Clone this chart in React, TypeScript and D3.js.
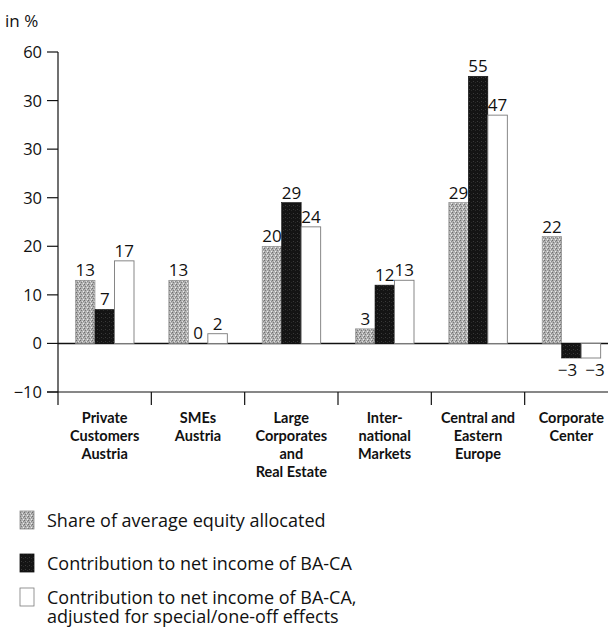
import React from "react";
import * as d3 from "d3";

const categories = [
  ["Private", "Customers", "Austria"],
  ["SMEs", "Austria"],
  ["Large", "Corporates", "and", "Real Estate"],
  ["Inter-", "national", "Markets"],
  ["Central and", "Eastern", "Europe"],
  ["Corporate", "Center"],
];
const categoryKeys = ["PCA", "SME", "LCRE", "IM", "CEE", "CC"];
const shareEquity = [13, 13, 20, 3, 29, 22];
const netIncome = [7, 0, 29, 12, 55, -3];
const netIncomeAdj = [17, 2, 24, 13, 47, -3];
const seriesNames = [
  ["Share of average equity allocated"],
  ["Contribution to net income of BA-CA"],
  ["Contribution to net income of BA-CA,", "adjusted for special/one-off effects"],
];
const tickValues = [60, 50, 40, 30, 20, 10, 0, -10];
const tickLabels = ["60", "30", "30", "30", "20", "10", "0", "\u221210"];

const FONT = "'Open Sans', 'DejaVu Sans', sans-serif";
const BOLD_FONT = "Lato, 'Open Sans', sans-serif";

export default function App() {
  const y = d3.scaleLinear().domain([-10, 60]).range([392, 52]);
  const x = d3.scaleBand<string>().domain(categoryKeys).range([58, 618]);
  const bw = x.bandwidth();
  const inner = d3.scaleBand<number>().domain([0, 1, 2]).range([17.5, 76]);
  const series = [shareEquity, netIncome, netIncomeAdj];
  const fills = ["url(#stipple)", "url(#dark)", "#ffffff"];
  const strokes = ["#8a8a8a", "#111", "#7a7a7a"];
  const y0 = y(0);
  const fmt = (v: number) => (v < 0 ? "\u2212" + Math.abs(v) : String(v));

  return (
    <svg
      width={608}
      height={627}
      style={{ position: "absolute", left: 0, top: 0, background: "#fff" }}
      fontFamily={FONT}
    >
      <defs>
        <pattern id="stipple" width="4" height="4" patternUnits="userSpaceOnUse">
          <rect width="4" height="4" fill="#b0b0b0" />
          <rect x="0" y="0" width="1" height="1" fill="#6e6e6e" />
          <rect x="2" y="1" width="1" height="1" fill="#e0e0e0" />
          <rect x="1" y="2" width="1" height="1" fill="#7a7a7a" />
          <rect x="3" y="3" width="1" height="1" fill="#ececec" />
          <rect x="3" y="1" width="1" height="1" fill="#8c8c8c" />
        </pattern>
        <pattern id="dark" width="4" height="4" patternUnits="userSpaceOnUse">
          <rect width="4" height="4" fill="#141414" />
          <rect x="1" y="1" width="1" height="1" fill="#3a3a3a" />
          <rect x="3" y="2" width="1" height="1" fill="#2a2a2a" />
        </pattern>
      </defs>

      <text x={5} y={27} fontSize={17} fill="#111">in %</text>

      {/* y axis */}
      <line x1={58} x2={58} y1={y(60)} y2={405} stroke="#111" strokeWidth={1.2} />
      {tickValues.map((t, i) => (
        <g key={t}>
          <line x1={47} x2={58} y1={y(t)} y2={y(t)} stroke="#111" strokeWidth={1.2} />
          <text x={42} y={y(t) + 6} fontSize={16.5} textAnchor="end" fill="#111">
            {tickLabels[i]}
          </text>
        </g>
      ))}

      {/* zero line and bottom line */}
      <line x1={58} x2={608} y1={y0} y2={y0} stroke="#111" strokeWidth={1.5} />
      <line x1={47} x2={608} y1={y(-10)} y2={y(-10)} stroke="#111" strokeWidth={1.2} />
      {categoryKeys.slice(1).map((k) => (
        <line key={k} x1={x(k)!} x2={x(k)!} y1={y(-10)} y2={405} stroke="#111" strokeWidth={1.2} />
      ))}

      {/* bars */}
      {categoryKeys.map((k, ci) => (
        <g key={k}>
          {series.map((s, si) => {
            const v = s[ci];
            const bx = x(k)! + inner(si)!;
            const top = Math.min(y(v), y0);
            const h = Math.abs(y(v) - y0);
            const labelY = v >= 0 ? y(v) - 4 : y(v) + 18;
            const dx = v < 0 ? (si - 1.5) * 8 : 0;
            return (
              <g key={si}>
                {h > 0 && (
                  <rect
                    x={bx}
                    y={top}
                    width={inner.bandwidth()}
                    height={h}
                    fill={fills[si]}
                    stroke={strokes[si]}
                    strokeWidth={si === 2 ? 0.9 : 0.6}
                  />
                )}
                <text
                  x={bx + inner.bandwidth() / 2 + dx}
                  y={labelY}
                  fontSize={17}
                  textAnchor="middle"
                  fill="#111"
                >
                  {fmt(v)}
                </text>
              </g>
            );
          })}
          <text
            fontSize={14.5}
            fontWeight="bold"
            fontFamily={BOLD_FONT}
            textAnchor="middle"
            fill="#111"
          >
            {categories[ci].map((line, li) => (
              <tspan key={li} x={x(k)! + bw / 2} y={423 + li * 18}>
                {line}
              </tspan>
            ))}
          </text>
        </g>
      ))}

      {/* legend */}
      {seriesNames.map((lines, i) => {
        const cy = [521, 564, 598][i];
        return (
          <g key={i}>
            <rect
              x={20}
              y={cy - 10}
              width={14}
              height={18}
              fill={fills[i]}
              stroke={strokes[i]}
              strokeWidth={0.8}
            />
            <text fontSize={18} fill="#111">
              {lines.map((l, li) => (
                <tspan key={li} x={47} y={cy + 6 + li * 18.5}>
                  {l}
                </tspan>
              ))}
            </text>
          </g>
        );
      })}
    </svg>
  );
}
